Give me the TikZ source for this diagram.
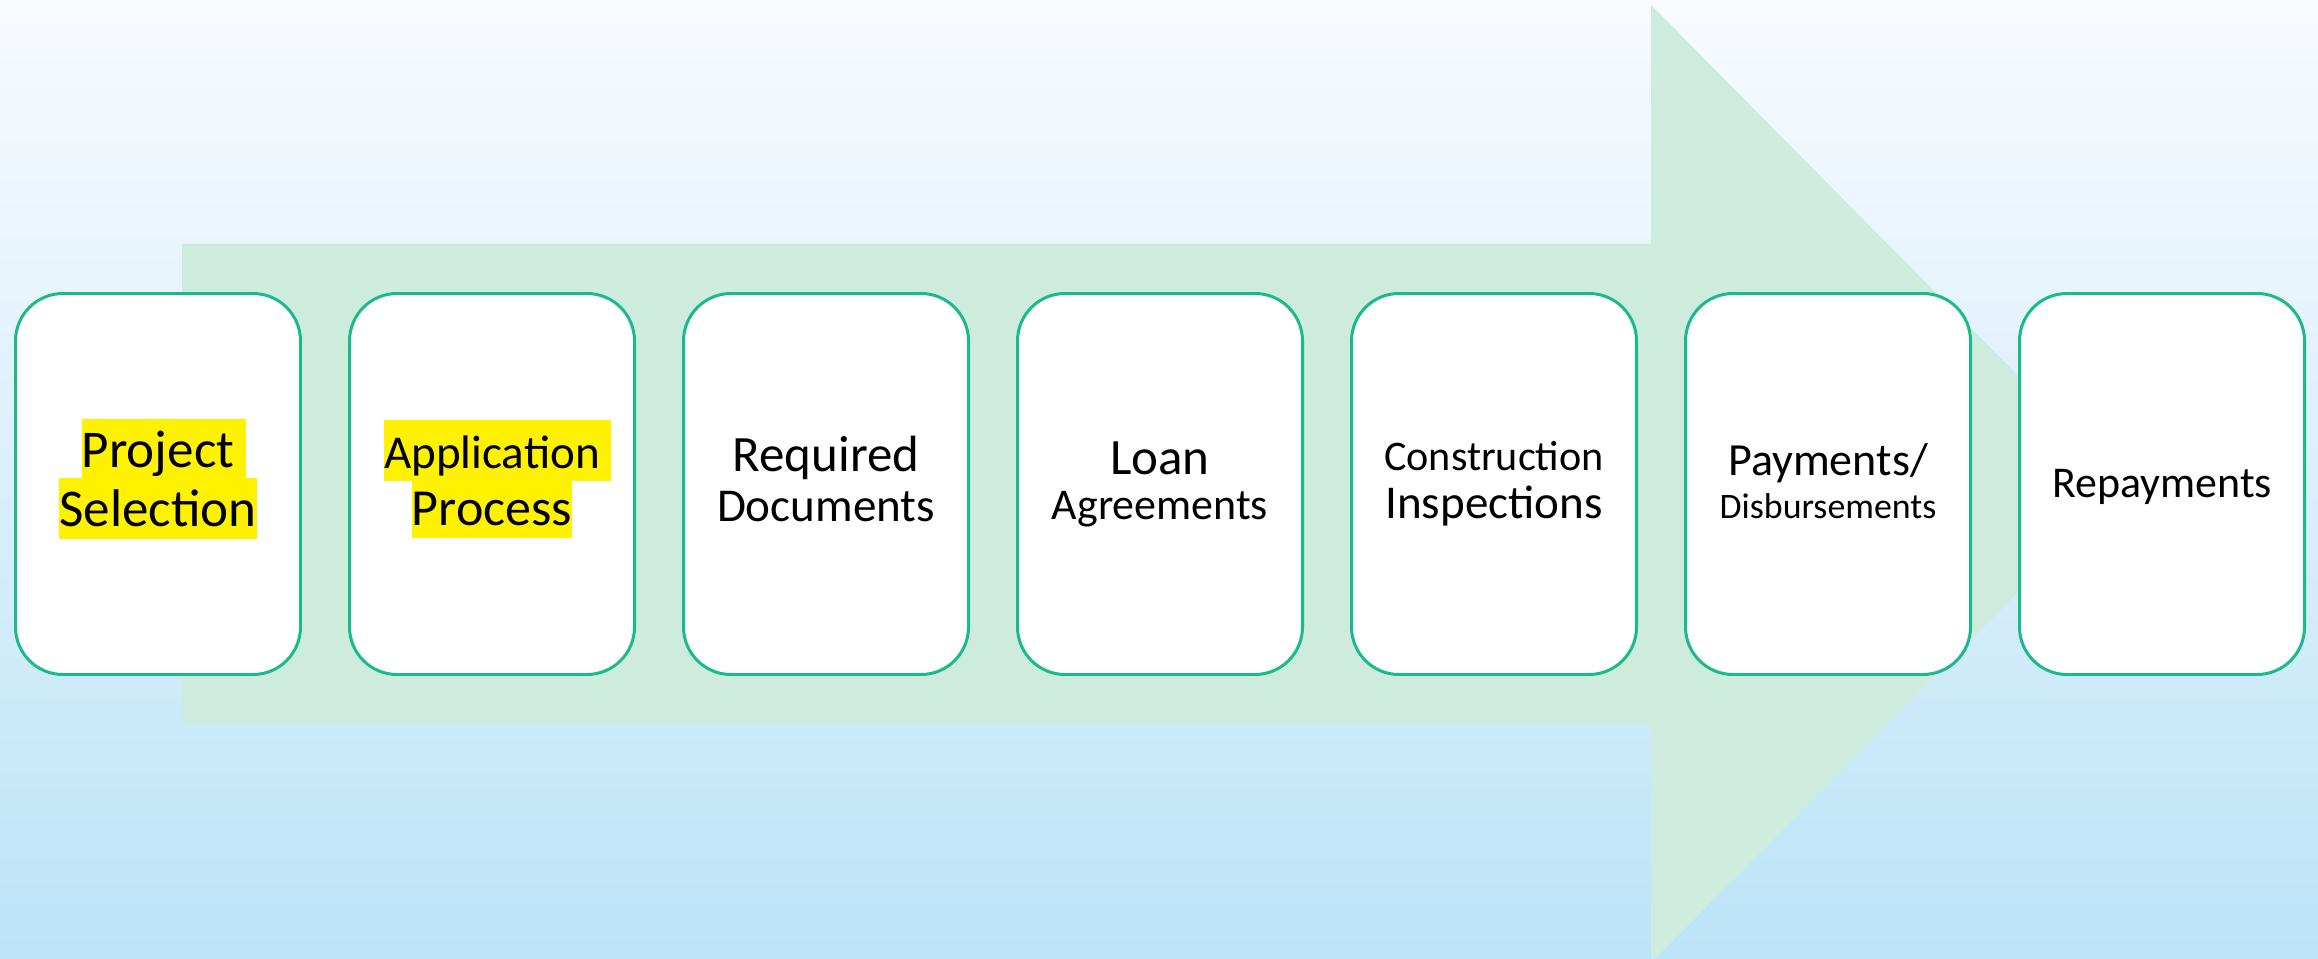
\documentclass[tikz,border=0pt]{standalone}
\usepackage{fontspec}
\setmainfont{Carlito}

\definecolor{stepgreen}{RGB}{26,186,138}
\definecolor{arrowgreen}{RGB}{205,236,222}
\definecolor{skytop}{RGB}{248,251,254}
\definecolor{skybottom}{RGB}{189,227,247}

\newcommand\startstep{\pgfmathparse{0.155}\let\x\pgfmathresult}
\newcommand\stepwidth{2.85}
\newcommand\stepheight{3.81}
\newcommand\stepgap{0.49}
\newcommand\stepmid{4.74}
\newcommand\stepfont[2]{\fontsize{#1}{#1}\selectfont #2}
\newcommand\hl[1]{{\setlength\fboxsep{0pt}\colorbox{yellow}{\rule[-3.5pt]{0pt}{17.5pt}#1}}}
\newcommand\hltail[1]{\hl{#1}\rlap{\hl{\ }}}
\newcommand\loanstep[4][0]{
  \node[stepbox] (#2) at (\x + \stepwidth * 0.5, \stepmid) {};
  \node[steptext, font=\fontsize{12}{#3}\selectfont] (#2-label)
    at ([yshift=#1 cm]#2.center) {#4};
  \pgfmathparse{\x + \stepwidth + \stepgap}\let\x\pgfmathresult
}
\tikzset{
  stepbox/.style={draw=stepgreen, line width=0.85pt, fill=white,
    rounded corners=0.475cm, minimum width=\stepwidth cm,
    minimum height=\stepheight cm, inner sep=0pt},
  steptext/.style={align=center, inner sep=0pt, text=black},
}
\lineskiplimit=-100pt

\begin{document}
\begin{tikzpicture}
    \useasboundingbox (0, 0) rectangle (23.18, 9.58);
    \shade[top color=skytop, bottom color=skybottom] (0, 0) rectangle (23.18, 9.58);
    \fill[arrowgreen] (1.82, 7.14) -- (16.51, 7.14) -- (16.51, 9.53)
       -- (21.25, 4.74) -- (16.51, -0.05) -- (16.51, 2.34)
       -- (1.82, 2.34) -- cycle;
    \startstep
    \loanstep[0.05]{select}{16.8pt}{\stepfont{15.1}{\hltail{Project}}\\\stepfont{15.1}{\hl{Selection}}}
    \loanstep[0.05]{apply}{16.2pt}{\stepfont{13.4}{\hltail{Application}}\\\stepfont{14.8}{\hl{Process}}}
    \loanstep[0.05]{docs}{14.2pt}{\stepfont{14.5}{Required}\\\stepfont{13.4}{Documents}}
    \loanstep{agree}{12.8pt}{\stepfont{14.5}{Loan}\\\stepfont{12.5}{Agreements}}
    \loanstep{inspect}{13.7pt}{\stepfont{12}{Construction}\\\stepfont{13.4}{Inspections}}
    \loanstep[0.03]{pay}{12.2pt}{\stepfont{13.1}{Payments/}\\\stepfont{10.2}{Disbursements}}
    \loanstep[-0.03]{repay}{12pt}{\stepfont{12.5}{Repayments}}
\end{tikzpicture}
\end{document}
